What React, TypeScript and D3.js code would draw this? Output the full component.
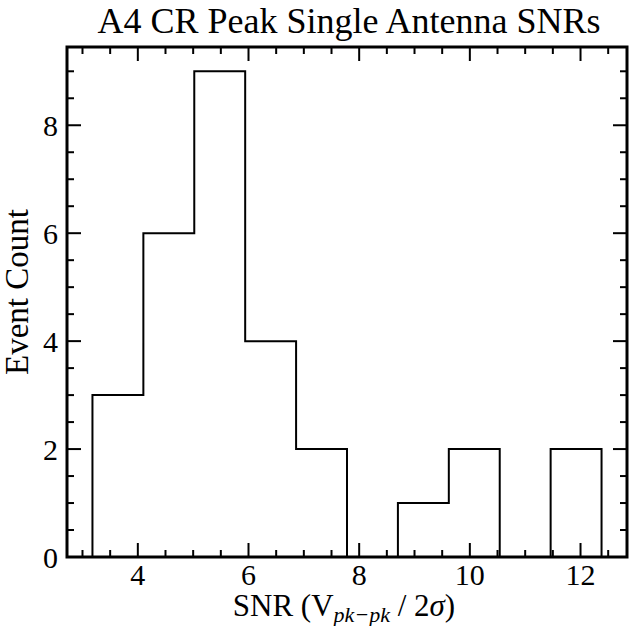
import { useEffect, useRef } from "react";
import * as d3 from "d3";

// histogram bins (edges) and counts
const binEdges = [3.18, 4.1, 5.02, 5.94, 6.86, 7.78, 8.7, 9.62, 10.54, 11.46, 12.38];
const counts = [3, 6, 9, 4, 2, 0, 1, 2, 0, 2];
const xTicks = [4, 6, 8, 10, 12];
const yTicks = [0, 2, 4, 6, 8];

const W = 632;
const H = 626;
const FONT = "'Liberation Serif', 'DejaVu Serif', serif";

export default function App() {
    const ref = useRef<SVGSVGElement>(null);

    useEffect(() => {
        if (!ref.current) return;
        const svg = d3.select(ref.current);
        svg.selectAll("*").remove();

        const left = 67, right = 627, top = 47, bottom = 557;
        const x = d3.scaleLinear().domain([2.72, 12.84]).range([left, right]);
        const y = d3.scaleLinear().domain([0, 9.45]).range([bottom, top]);

        // step outline of the histogram
        const pts: [number, number][] = [[binEdges[0], 0]];
        counts.forEach((c, i) => {
            pts.push([binEdges[i], c]);
            pts.push([binEdges[i + 1], c]);
        });
        pts.push([binEdges[binEdges.length - 1], 0]);

        const line = d3.line<[number, number]>().x((d) => x(d[0])).y((d) => y(d[1]));
        svg.append("path")
            .attr("d", line(pts))
            .attr("fill", "none")
            .attr("stroke", "black")
            .attr("stroke-width", 2)
            .attr("stroke-linejoin", "miter");

        // ticks, inward on all sides
        const g = svg.append("g").attr("stroke", "black").attr("stroke-width", 2);
        const xMinor = d3.range(3, 12.81, 0.5);
        const yMinor = d3.range(0.5, 9.45, 0.5);
        xMinor.forEach((v) => {
            const major = xTicks.includes(v);
            const len = major ? 14 : 7;
            g.append("line").attr("x1", x(v)).attr("x2", x(v)).attr("y1", bottom).attr("y2", bottom - len);
            g.append("line").attr("x1", x(v)).attr("x2", x(v)).attr("y1", top).attr("y2", top + len);
        });
        [0, ...yMinor].forEach((v) => {
            const major = yTicks.includes(v);
            const len = major ? 14 : 7;
            g.append("line").attr("y1", y(v)).attr("y2", y(v)).attr("x1", left).attr("x2", left + len);
            g.append("line").attr("y1", y(v)).attr("y2", y(v)).attr("x1", right).attr("x2", right - len);
        });

        // frame
        svg.append("rect")
            .attr("x", left).attr("y", top)
            .attr("width", right - left).attr("height", bottom - top)
            .attr("fill", "none").attr("stroke", "black").attr("stroke-width", 3);

        // tick labels
        svg.append("g").selectAll("text").data(xTicks).join("text")
            .attr("x", (d) => x(d)).attr("y", 585)
            .attr("text-anchor", "middle")
            .attr("font-family", FONT).attr("font-size", 30)
            .text((d) => d);
        svg.append("g").selectAll("text").data(yTicks).join("text")
            .attr("x", 58).attr("y", (d) => y(d) + 11)
            .attr("text-anchor", "end")
            .attr("font-family", FONT).attr("font-size", 30)
            .text((d) => d);

        // title
        svg.append("text")
            .attr("x", 349).attr("y", 33)
            .attr("text-anchor", "middle")
            .attr("font-family", FONT).attr("font-size", 36)
            .text("A4 CR Peak Single Antenna SNRs");

        // x label
        const xl = svg.append("text")
            .attr("x", 344).attr("y", 616)
            .attr("text-anchor", "middle")
            .attr("font-family", FONT).attr("font-size", 31);
        xl.append("tspan").text("SNR (V");
        xl.append("tspan").attr("font-size", 22).attr("font-style", "italic").attr("dy", 6).text("pk−pk");
        xl.append("tspan").attr("dy", -6).text(" / 2");
        xl.append("tspan").attr("font-style", "italic").text("σ");
        xl.append("tspan").text(")");

        // y label
        svg.append("text")
            .attr("transform", `translate(28,292) rotate(-90)`)
            .attr("text-anchor", "middle")
            .attr("font-family", FONT).attr("font-size", 33)
            .text("Event Count");
    }, []);

    return (
        <svg ref={ref} width={W} height={H} style={{ display: "block", position: "absolute", left: 0, top: 0, background: "white" }} />
    );
}
